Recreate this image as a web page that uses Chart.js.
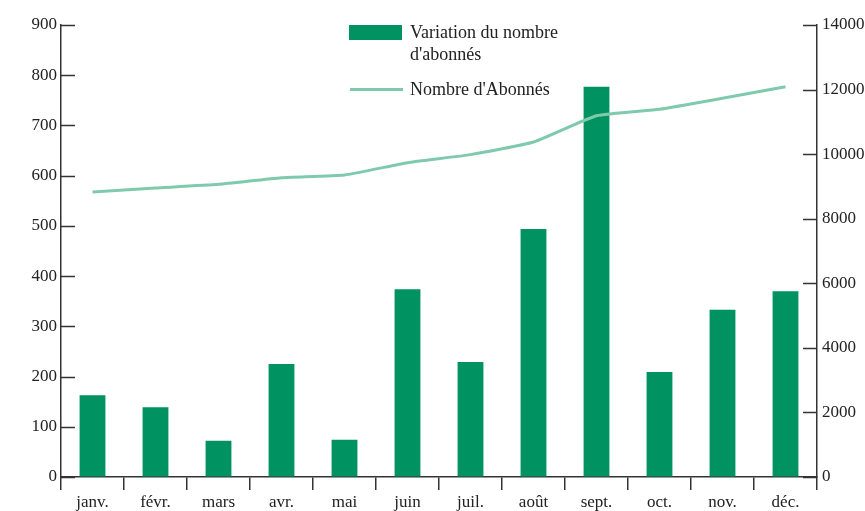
<!DOCTYPE html>
<html lang="fr">
<head>
<meta charset="utf-8">
<script src="https://cdn.jsdelivr.net/npm/chart.js@4/dist/chart.umd.min.js"></script>
<style>
  html, body { margin: 0; padding: 0; background: #fff; }
  #wrap { position: relative; width: 865px; height: 511px; }
  #legend { position: absolute; left: 349px; top: 20px; font-family: "Liberation Serif", "DejaVu Serif", serif; font-size: 18px; color: #222; }
  .item { position: absolute; white-space: nowrap; line-height: 22px; }
  .swatch-bar { position: absolute; width: 53px; height: 15px; background: #009260; }
  .swatch-line { position: absolute; width: 53px; height: 3px; background: #7fcaae; }
</style>
</head>
<body>
<div id="wrap">
  <canvas id="abonnes" width="865" height="511"></canvas>
  <div id="legend">
    <div class="swatch-bar" style="left:0; top:5px;"></div>
    <div class="item" style="left:61px; top:1px;">Variation du nombre<br>d'abonnés</div>
    <div class="swatch-line" style="left:1px; top:68px;"></div>
    <div class="item" style="left:61px; top:58px;">Nombre d'Abonnés</div>
  </div>
</div>
<script>
const months = ['janv.', 'févr.', 'mars', 'avr.', 'mai', 'juin', 'juil.', 'août', 'sept.', 'oct.', 'nov.', 'déc.'];
const variation = [163, 139, 72, 225, 74, 374, 229, 494, 777, 209, 333, 370];
const abonnes = [8830, 8950, 9065, 9270, 9355, 9735, 9985, 10375, 11190, 11390, 11730, 12090];

const FONT = { family: '"Liberation Serif", "DejaVu Serif", serif', size: 17 };
const AXIS = '#333';

// small inward tick marks on both value axes
const innerTicks = {
  id: 'innerTicks',
  afterDraw(chart) {
    const ctx = chart.ctx;
    ctx.save();
    ctx.strokeStyle = AXIS;
    ctx.lineWidth = 1.5;
    const y = chart.scales.y, y1 = chart.scales.y1;
    y.ticks.forEach(t => {
      const py = Math.round(y.getPixelForValue(t.value)) + 0.5;
      ctx.beginPath(); ctx.moveTo(y.right, py); ctx.lineTo(y.right + 14, py); ctx.stroke();
    });
    y1.ticks.forEach(t => {
      const py = Math.round(y1.getPixelForValue(t.value)) + 0.5;
      ctx.beginPath(); ctx.moveTo(y1.left, py); ctx.lineTo(y1.left - 14, py); ctx.stroke();
    });
    ctx.restore();
  }
};

new Chart(document.getElementById('abonnes'), {
  type: 'bar',
  data: {
    labels: months,
    datasets: [
      {
        type: 'line',
        label: "Nombre d'Abonnés",
        data: abonnes,
        yAxisID: 'y1',
        borderColor: '#7fcaae',
        borderWidth: 3,
        pointRadius: 0,
        tension: 0.15,
        order: 0
      },
      {
        label: 'Variation du nombre d\'abonnés',
        data: variation,
        yAxisID: 'y',
        backgroundColor: '#009260',
        barPercentage: 0.41,
        categoryPercentage: 1,
        order: 1
      }
    ]
  },
  options: {
    responsive: false,
    animation: false,
    layout: { padding: { top: 25, bottom: 0, left: 0, right: 0 } },
    plugins: { legend: { display: false }, tooltip: { enabled: false } },
    scales: {
      x: {
        offset: true,
        grid: { offset: true, drawOnChartArea: false, tickLength: 13, color: AXIS, lineWidth: 1.5 },
        border: { color: AXIS, width: 1.5 },
        ticks: { color: '#222', font: FONT, padding: 2 },
        afterFit: s => { s.height = 34; }
      },
      y: {
        position: 'left',
        min: 0, max: 900,
        ticks: { stepSize: 100, color: '#222', font: FONT, padding: 4, callback: v => String(v) },
        grid: { display: true, drawOnChartArea: false, drawTicks: false, tickLength: 0 },
        border: { color: AXIS, width: 1.5 },
        afterFit: s => { s.width = 61; }
      },
      y1: {
        position: 'right',
        min: 0, max: 14000,
        ticks: { stepSize: 2000, color: '#222', font: FONT, padding: 5, callback: v => String(v) },
        grid: { display: true, drawOnChartArea: false, drawTicks: false, tickLength: 0 },
        border: { color: AXIS, width: 1.5 },
        afterFit: s => { s.width = 48; }
      }
    }
  },
  plugins: [innerTicks]
});
</script>
</body>
</html>
